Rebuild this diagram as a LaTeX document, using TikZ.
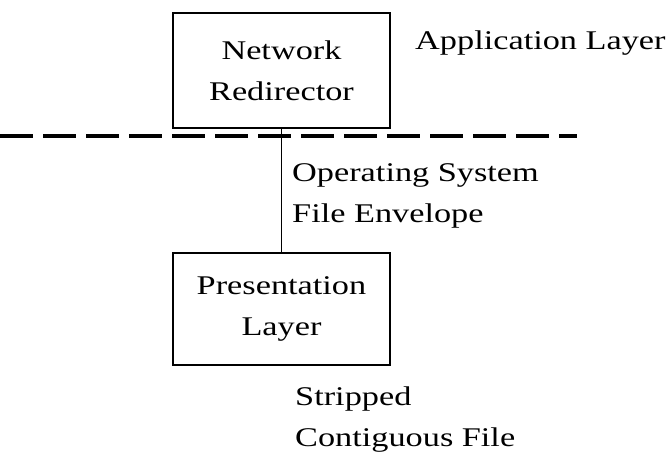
\documentclass[tikz,border=0pt]{standalone}
\usepackage{fontspec}
\setmainfont{Liberation Serif}[FakeStretch=1.27]
\begin{document}
\begin{tikzpicture}[x=1pt,y=-1pt,
  box/.style={draw,line width=1.5pt,minimum width=217pt,inner sep=0pt,align=center,font=\fontsize{27}{41}\selectfont},
  lbl/.style={anchor=west,align=left,inner sep=0pt,font=\fontsize{27}{41}\selectfont},
  conn/.style={line width=1.5pt},
  sep/.style={line width=4pt,dash pattern=on 33pt off 10pt}]
\useasboundingbox (0,0) rectangle (670,457);
\node[box,minimum height=115pt] (net) at (281.5,70.5) {Network\\Redirector};
\node[box,minimum height=112pt] (pres) at (281.5,309) {Presentation\\Layer};
\coordinate (dl) at (0,136);
\coordinate (dr) at (577,136);
\draw[sep] (dl) -- (dr);
\draw[conn] (net.south) -- (pres.north);
\node[lbl] (app) at (415,43) {Application Layer};
\node[lbl] (os) at (292,196) {Operating System\\File Envelope};
\node[lbl] (strip) at (295,420) {Stripped\\Contiguous File};
\end{tikzpicture}
\end{document}
